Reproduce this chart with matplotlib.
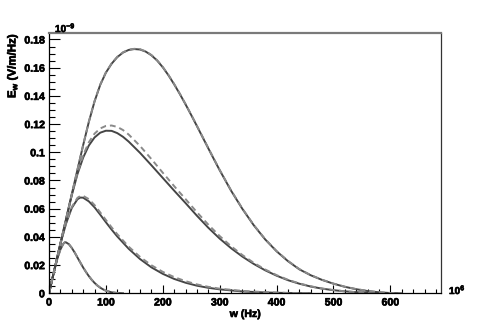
import matplotlib
matplotlib.use("Agg")
import matplotlib.pyplot as plt
import matplotlib.patheffects as pe
from matplotlib.ticker import FixedLocator, FixedFormatter, MultipleLocator

plt.rcParams['font.family'] = ['Liberation Sans', 'DejaVu Sans']
plt.rcParams['font.weight'] = 'bold'
plt.rcParams['mathtext.default'] = 'regular'

# ---- data (w in 1e6 Hz, E in 1e-9 V/m/Hz) ----
wA = [0, 5, 10, 15, 20, 25, 28, 30, 35, 40, 45, 50, 55, 60, 65, 70, 75, 80, 85, 90, 95, 100, 110, 120, 130]
eA_solid = [0, 0.0088, 0.0174, 0.0250, 0.0310, 0.0350, 0.0362, 0.0361, 0.0348, 0.0322, 0.0290, 0.0254, 0.0218, 0.0183, 0.0151, 0.0122, 0.0096, 0.0074, 0.0055, 0.0040, 0.0028, 0.0018, 0.0007, 0.0002, 0]
eA_dash = [0, 0.0088, 0.0174, 0.0250, 0.0310, 0.0351, 0.0363, 0.0362, 0.0349, 0.0323, 0.0291, 0.0255, 0.0219, 0.0184, 0.0152, 0.0123, 0.0097, 0.0075, 0.0056, 0.0041, 0.0029, 0.0019, 0.0008, 0.0002, 0]

wB = [0, 10, 20, 30, 40, 50, 55, 60, 70, 80, 90, 100, 110, 120, 140, 160, 180, 200, 220, 240, 260, 280, 300, 340, 380, 420, 460]
eB_solid = [0, 0.0176, 0.0350, 0.0495, 0.0605, 0.0667, 0.0679, 0.0678, 0.0652, 0.0610, 0.0558, 0.0504, 0.0452, 0.0403, 0.0316, 0.0243, 0.0184, 0.0138, 0.0102, 0.0075, 0.0054, 0.0039, 0.0028, 0.0013, 0.0006, 0.0002, 0]
eB_dash = [0, 0.0176, 0.0350, 0.0498, 0.0612, 0.0677, 0.0690, 0.0691, 0.0668, 0.0626, 0.0574, 0.0520, 0.0468, 0.0419, 0.0331, 0.0258, 0.0199, 0.0152, 0.0115, 0.0086, 0.0063, 0.0046, 0.0033, 0.0017, 0.0008, 0.0003, 0]

wC = [0, 20, 40, 50, 60, 70, 80, 90, 100, 110, 120, 130, 140, 160, 180, 200, 220, 240, 260, 280, 300, 320, 340, 360, 380, 400, 420, 440, 460, 480, 500, 520, 540, 560, 580, 600]
eC_solid = [0, 0.0350, 0.0695, 0.0845, 0.0962, 0.1048, 0.1105, 0.1139, 0.1153, 0.1152, 0.1136, 0.1110, 0.1076, 0.0996, 0.0908, 0.0818, 0.0728, 0.0640, 0.0550, 0.0465, 0.0388, 0.0320, 0.0260, 0.0208, 0.0163, 0.0125, 0.0093, 0.0068, 0.0048, 0.0033, 0.0022, 0.0014, 0.0008, 0.0004, 0.0001, 0]
eC_dash = [0, 0.0350, 0.0697, 0.0853, 0.0979, 0.1071, 0.1132, 0.1169, 0.1187, 0.1190, 0.1180, 0.1158, 0.1126, 0.1045, 0.0952, 0.0855, 0.0760, 0.0668, 0.0575, 0.0487, 0.0406, 0.0334, 0.0271, 0.0216, 0.0169, 0.0129, 0.0096, 0.0070, 0.0050, 0.0034, 0.0023, 0.0014, 0.0008, 0.0004, 0.0001, 0]

wD = [0, 20, 40, 60, 70, 80, 90, 100, 110, 120, 130, 140, 150, 160, 170, 180, 190, 200, 210, 220, 230, 240, 250, 260, 270, 280, 290, 300, 320, 340, 360, 380, 400, 420, 440, 460, 480, 500, 520, 540, 560, 580, 600, 620]
eD_solid = [0, 0.0352, 0.0702, 0.1050, 0.1215, 0.1360, 0.1478, 0.1565, 0.1628, 0.1675, 0.1707, 0.1726, 0.1732, 0.1729, 0.1714, 0.1688, 0.1651, 0.1603, 0.1546, 0.1482, 0.1413, 0.1340, 0.1264, 0.1186, 0.1107, 0.1028, 0.0950, 0.0873, 0.0728, 0.0598, 0.0482, 0.0382, 0.0298, 0.0228, 0.0170, 0.0128, 0.0095, 0.0068, 0.0046, 0.0029, 0.0016, 0.0007, 0.0002, 0]
eD_dash = [0, 0.0352, 0.0702, 0.1051, 0.1217, 0.1362, 0.1480, 0.1567, 0.1630, 0.1677, 0.1709, 0.1728, 0.1734, 0.1731, 0.1716, 0.1690, 0.1653, 0.1605, 0.1548, 0.1484, 0.1415, 0.1342, 0.1266, 0.1188, 0.1109, 0.1030, 0.0952, 0.0875, 0.0730, 0.0600, 0.0484, 0.0384, 0.0300, 0.0230, 0.0172, 0.0129, 0.0096, 0.0069, 0.0047, 0.0030, 0.0017, 0.0008, 0.0002, 0]

xticks = [0, 100, 200, 300, 400, 500, 600]
xticklabels = ["0", "100", "200", "300", "400", "500", "600"]
yticks = [0, 0.02, 0.04, 0.06, 0.08, 0.1, 0.12, 0.14, 0.16, 0.18]
yticklabels = ["0", "0.02", "0.04", "0.06", "0.08", "0.1", "0.12", "0.14", "0.16", "0.18"]

W, H = 491, 327
fig = plt.figure(figsize=(W / 100, H / 100), dpi=100)
ax = fig.add_axes([49 / W, 1 - 293.3 / H, (441 - 49) / W, (293.3 - 33) / H])

solid_c = '#454545'
dash_c = '#8a8a8a'
lw = 1.4
for w, s, d in [(wA, eA_solid, eA_dash), (wB, eB_solid, eB_dash),
                (wC, eC_solid, eC_dash), (wD, eD_solid, eD_dash)]:
    ax.plot(w, s, color=solid_c, lw=lw, solid_joinstyle='round')
    ax.plot(w, d, color=dash_c, lw=lw, linestyle=(0, (3, 2)))

ax.set_xlim(0, 689)
ax.set_ylim(0, 0.1846)

ax.xaxis.set_major_locator(FixedLocator(xticks))
ax.xaxis.set_major_formatter(FixedFormatter(xticklabels))
ax.xaxis.set_minor_locator(MultipleLocator(20))
ax.yaxis.set_major_locator(FixedLocator(yticks))
ax.yaxis.set_major_formatter(FixedFormatter(yticklabels))
ax.yaxis.set_minor_locator(MultipleLocator(0.005))

ax.tick_params(axis='both', which='both', direction='in', color='black', width=0.8,
               labelsize=7.6)
ax.tick_params(axis='x', which='major', length=5.8, pad=3)
ax.tick_params(axis='x', which='minor', length=2.8)
ax.tick_params(axis='y', which='major', length=8.2, pad=3)
ax.tick_params(axis='y', which='minor', length=4.0)

stroke = [pe.withStroke(linewidth=0.45, foreground='black')]
for lab in ax.get_xticklabels() + ax.get_yticklabels():
    lab.set_fontweight('bold')
    lab.set_path_effects(stroke)

ax.spines['left'].set_color('black')
ax.spines['left'].set_linewidth(0.9)
ax.spines['bottom'].set_color('black')
ax.spines['bottom'].set_linewidth(0.9)
ax.spines['right'].set_color('#333333')
ax.spines['right'].set_linewidth(0.9)
ax.spines['top'].set_color('#7a7a7a')
ax.spines['top'].set_linewidth(1.6)

t1 = fig.text(245 / W, 1 - 314 / H, 'w (Hz)', ha='center', va='center',
              fontsize=7.6, fontweight='bold')
t2 = fig.text(12.5 / W, 1 - 33 / H, 'E$_{w}$ (V/m/Hz)', ha='center', va='top',
              rotation=90, fontsize=8.3, fontweight='bold')
t3 = fig.text(55 / W, 1 - 32 / H, '10$^{-9}$', ha='left', va='baseline',
              fontsize=7.2, fontweight='bold')
t4 = fig.text(449 / W, 1 - 294 / H, '10$^{6}$', ha='left', va='baseline',
              fontsize=7.2, fontweight='bold')
for t in (t1, t2, t3, t4):
    t.set_path_effects(stroke)

fig.savefig('out.png', dpi=100)
